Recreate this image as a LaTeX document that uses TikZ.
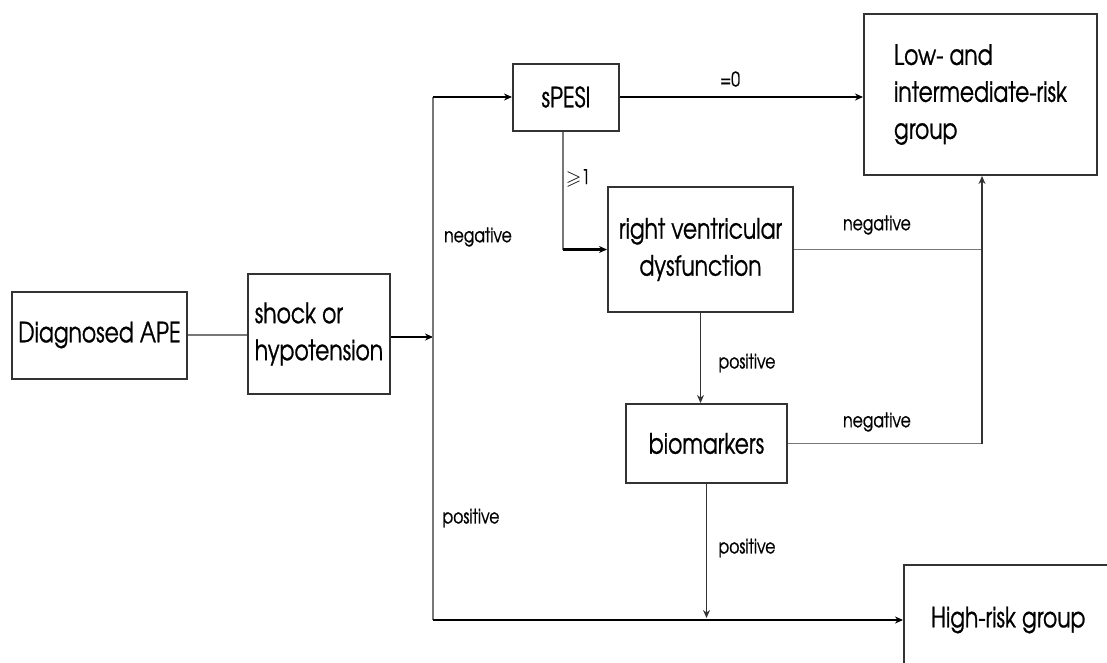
\documentclass[tikz,border=0pt]{standalone}
\usepackage{amssymb}
\usepackage{fontspec}
\setmainfont[FakeStretch=0.78,FakeBold=0.8]{TeX Gyre Adventor}
\usetikzlibrary{arrows.meta,calc}
\definecolor{boxc}{HTML}{333333}
\definecolor{linec}{HTML}{777777}
\begin{document}
\begin{tikzpicture}[x=1pt,y=-1pt,
  box/.style={draw=boxc, line width=2pt, inner sep=0pt, font=\fontsize{28}{37}\selectfont, text=black},
  lab/.style={font=\fontsize{20}{22}\selectfont, text=black, inner sep=0pt},
  thickarrow/.style={draw=black, line width=2.4pt, -{Stealth[length=8pt,width=7pt]}},
  thinarrow/.style={draw=boxc, line width=1.8pt, -{Stealth[length=8pt,width=7pt]}},
  grayline/.style={draw=linec, line width=1.6pt}]
\clip (0,0) rectangle (1107,662);
\fill[white] (0,0) rectangle (1107,662);

\node[box, minimum width=175pt, minimum height=87pt] (ape) at (99.5,335) {Diagnosed APE};
\node[box, minimum width=142pt, minimum height=120pt, align=left] (shock) at (319,334) {shock or\\hypotension};
\node[box, minimum width=106pt, minimum height=67pt] (spesi) at (566,97) {sPESI};
\node[box, minimum width=233pt, minimum height=161pt, align=left] (low) at (980.5,94.5) {Low- and\\intermediate-risk\\group};
\node[box, minimum width=185pt, minimum height=125pt, align=center] (rvd) at (700.5,249.5) {right ventricular\\dysfunction};
\node[box, minimum width=161pt, minimum height=79pt] (bio) at (706.5,443.5) {biomarkers};
\node[box, anchor=west, minimum height=110pt, inner xsep=27pt] (high) at (903,620) {High-risk group};

\coordinate (J) at (433,337);
\coordinate (Vt) at (spesi.west -| J);
\coordinate (Vb) at (433,620);
\coordinate (S1) at (563,0);
\coordinate (R) at (982,0);

% APE -> shock
\draw[grayline] (ape.east) -- (ape.east -| shock.west);
% shock -> junction
\draw[thickarrow] (shock.east |- J) -- (J);
% vertical spine
\draw[grayline] (Vt) -- (Vb);
% spine -> sPESI
\draw[thickarrow] (Vt) -- (spesi.west);
% sPESI -> low
\draw[thickarrow] (spesi.east) -- (spesi.east -| low.west);
\node[lab] (eq0) at (730,79) {=0};
% sPESI -> rvd
\draw[grayline] (spesi.south -| S1) -- (S1 |- rvd.west);
\draw[thickarrow] (S1 |- rvd.west) -- (rvd.west);
\node[lab] (ge1) at (578,178) {$\geqslant$1};
% rvd -> right
\draw[grayline] (rvd.east) -- (rvd.east -| R);
\node[lab] (neg2) at (877,225) {negative};
% bio -> right -> low
\draw[grayline] (bio.east) -- (bio.east -| R);
\draw[thinarrow] (bio.east -| R) -- (low.south -| R);
\node[lab] (neg3) at (877,422) {negative};
% rvd -> bio
\draw[thinarrow] (rvd.south) -- (rvd.south |- bio.north);
\node[lab] (pos2) at (747,363) {positive};
% bio -> bottom line
\draw[thinarrow] (bio.south) -- ($(bio.south |- Vb)+(0,-2)$);
\node[lab] (pos3) at (747,548) {positive};
% bottom line -> high
\draw[thickarrow] (Vb) -- (high.west);
\node[lab] (neg1) at (478,237) {negative};
\node[lab] (pos1) at (471,518) {positive};
\end{tikzpicture}
\end{document}
